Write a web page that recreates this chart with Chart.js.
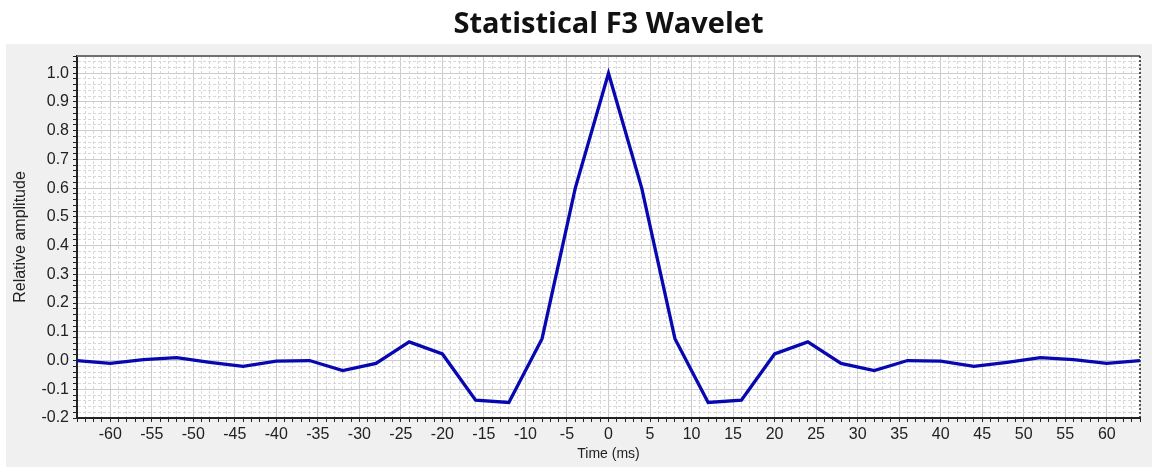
<!DOCTYPE html>
<html>
<head>
<meta charset="utf-8">
<title>Statistical F3 Wavelet</title>
<script src="https://cdn.jsdelivr.net/npm/chart.js@4.4.1/dist/chart.umd.min.js"></script>
<style>
  html, body { margin: 0; padding: 0; background: #ffffff; }
  canvas { display: block; }
</style>
</head>
<body>
<canvas id="waveletChart" width="1152" height="469"></canvas>
<script>
// wavelet samples, one every 4 ms
const timeMs = [-64, -60, -56, -52, -48, -44, -40, -36, -32, -28, -24, -20, -16, -12, -8, -4,
                0, 4, 8, 12, 16, 20, 24, 28, 32, 36, 40, 44, 48, 52, 56, 60, 64];
const amplitude = [0.0, -0.01, 0.003, 0.01, -0.006, -0.02, -0.002, 0.0, -0.035, -0.01, 0.065, 0.023,
                   -0.138, -0.146, 0.076, 0.6, 1.0, 0.6, 0.076, -0.146, -0.138, 0.023, 0.065, -0.01,
                   -0.035, 0.0, -0.002, -0.02, -0.006, 0.01, 0.003, -0.01, 0.0];

// labelled ticks
const xLabels = [-60, -55, -50, -45, -40, -35, -30, -25, -20, -15, -10, -5, 0, 5, 10, 15, 20, 25, 30, 35, 40, 45, 50, 55, 60];
const yLabels = [-0.2, -0.1, 0.0, 0.1, 0.2, 0.3, 0.4, 0.5, 0.6, 0.7, 0.8, 0.9, 1.0];

const xMin = -64, xMax = 64, xMinorStep = 1;
const yMin = -0.2, yMax = 1.06, yMinorStep = 0.02;

function isXMajor(v) { return xLabels.includes(v); }
function isYMajor(v) { return yLabels.some(m => Math.abs(m - v) < 1e-9); }

// every minor position becomes a tick so the fine grid comes from the scale itself
function minorTicks(min, max, step) {
  let out = [];
  let n = Math.round((max - min) / step);
  for (let i = 0; i <= n; i++) {
    out.push({ value: +(min + i * step).toFixed(6) });
  }
  return out;
}

const panelBackground = {
  id: 'panelBackground',
  beforeDraw(chart) {
    const { ctx, chartArea: a, width, height } = chart;
    ctx.save();
    ctx.fillStyle = '#ffffff';
    ctx.fillRect(0, 0, width, height);
    ctx.fillStyle = '#f0f0f0';
    ctx.fillRect(6, 44, width - 6, height - 46);
    ctx.fillStyle = '#ffffff';
    ctx.fillRect(a.left, a.top, a.right - a.left, a.bottom - a.top);
    ctx.restore();
  },
  afterDraw(chart) {
    const { ctx, chartArea: a } = chart;
    ctx.save();
    // top edge of the plot frame
    ctx.strokeStyle = '#6e6e6e';
    ctx.lineWidth = 2;
    ctx.beginPath();
    ctx.moveTo(a.left, a.top);
    ctx.lineTo(a.right, a.top);
    ctx.stroke();
    // dotted right edge
    ctx.strokeStyle = '#222222';
    ctx.lineWidth = 1.5;
    ctx.setLineDash([2, 2]);
    ctx.beginPath();
    ctx.moveTo(a.right, a.top);
    ctx.lineTo(a.right, a.bottom);
    ctx.stroke();
    ctx.restore();
  }
};

const tickFont = { family: "'Liberation Sans', Arial, sans-serif", size: 16 };

const ctx = document.getElementById('waveletChart').getContext('2d');
const chart = new Chart(ctx, {
  type: 'line',
  data: {
    datasets: [{
      data: timeMs.map((t, i) => ({ x: t, y: amplitude[i] })),
      borderColor: '#0808b0',
      borderWidth: 3.3,
      pointRadius: 0,
      tension: 0,
      fill: false
    }]
  },
  options: {
    responsive: false,
    animation: false,
    devicePixelRatio: 1,
    layout: { padding: { left: 6, right: 12, top: 0, bottom: 4 } },
    plugins: {
      legend: { display: false },
      tooltip: { enabled: false },
      title: {
        display: true,
        fullSize: false,
        text: 'Statistical F3 Wavelet',
        color: '#111111',
        font: { family: "'Open Sans', Lato, sans-serif", size: 29, weight: 'bold' },
        padding: { top: 7, bottom: 14.2 }
      }
    },
    scales: {
      x: {
        type: 'linear',
        min: xMin,
        max: xMax,
        afterBuildTicks: axis => { axis.ticks = minorTicks(xMin, xMax, xMinorStep); },
        afterFit: axis => { axis.height = 47; },
        ticks: {
          autoSkip: false,
          maxRotation: 0,
          padding: 3,
          color: '#222222',
          font: tickFont,
          callback: v => isXMajor(v) ? String(v) : ''
        },
        grid: {
          color: c => (c.tick && isXMajor(c.tick.value)) ? '#cccccc' : '#d8d8d8',
          lineWidth: 1,
          tickLength: 4,
          tickColor: '#222222'
        },
        border: {
          color: '#222222',
          width: 2,
          dash: c => (c.tick && !isXMajor(c.tick.value)) ? [3, 2] : []
        },
        title: {
          display: true,
          text: 'Time (ms)',
          color: '#222222',
          font: { family: "'Liberation Sans', Arial, sans-serif", size: 14 },
          padding: { top: 0, bottom: 2 }
        }
      },
      y: {
        min: yMin,
        max: yMax,
        afterBuildTicks: axis => { axis.ticks = minorTicks(yMin, yMax, yMinorStep); },
        afterFit: axis => { axis.width = 71; },
        ticks: {
          autoSkip: false,
          padding: 4,
          color: '#222222',
          font: tickFont,
          callback: v => {
            let m = yLabels.find(l => Math.abs(l - v) < 1e-9);
            return m === undefined ? '' : m.toFixed(1);
          }
        },
        grid: {
          color: c => (c.tick && isYMajor(c.tick.value)) ? '#cccccc' : '#d8d8d8',
          lineWidth: 1,
          tickLength: 4,
          tickColor: '#222222'
        },
        border: {
          color: '#222222',
          width: 2,
          dash: c => (c.tick && !isYMajor(c.tick.value)) ? [3, 2] : []
        },
        title: {
          display: true,
          text: 'Relative amplitude',
          color: '#222222',
          font: { family: "'Liberation Sans', Arial, sans-serif", size: 16 },
          padding: { top: 5, bottom: 0 }
        }
      }
    }
  },
  plugins: [panelBackground]
});
</script>
</body>
</html>
